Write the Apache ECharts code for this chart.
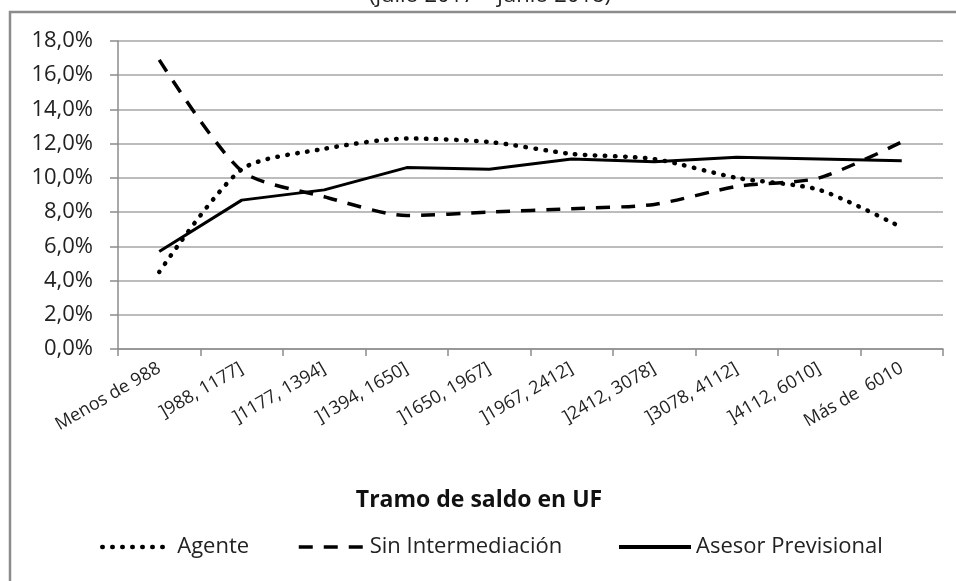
<!DOCTYPE html>
<html>
<head>
<meta charset="utf-8">
<script src="https://cdn.jsdelivr.net/npm/echarts@6/dist/echarts.min.js"></script>
<style>
html,body{margin:0;padding:0;background:#fff;}
#chart{width:956px;height:581px;}
</style>
</head>
<body>
<div id="chart"></div>
<script>
var categories = ['Menos de 988', ']988, 1177]', ']1177, 1394]', ']1394, 1650]', ']1650, 1967]', ']1967, 2412]', ']2412, 3078]', ']3078, 4112]', ']4112, 6010]', 'Más de  6010'];
var agente = [4.5, 10.5, 11.7, 12.3, 12.1, 11.4, 11.1, 10.0, 9.3, 7.1];
var sinIntermediacion = [16.9, 10.4, 8.9, 7.8, 8.0, 8.2, 8.45, 9.5, 10.0, 12.1];
var asesorPrevisional = [5.7, 8.7, 9.3, 10.6, 10.5, 11.1, 10.95, 11.2, 11.1, 11.0];
var yTicks = {min: 0, max: 18, interval: 2};
var seriesNames = ['Agente', 'Sin Intermediación', 'Asesor Previsional'];
var titleText = '(julio 2017 – junio 2018)';
var axisTitle = 'Tramo de saldo en UF';

var FONT = 'Open Sans';
var DOT = {color: '#000', width: 4.5, type: [0.5, 9.5], cap: 'round'};
var DASH = {color: '#000', width: 3.5, type: [14, 11], cap: 'butt'};
var SOLID = {color: '#000', width: 3, type: 'solid'};
var SOLID_LEGEND = {color: '#000', width: 4, type: 'solid'};
var chart = echarts.init(document.getElementById('chart'), null, {renderer: 'canvas'});

function legendFor(name, left, width, ls) {
  return {
    data: [name], left: left, top: 536, itemWidth: width, itemHeight: 20,
    itemGap: 0, padding: 0,
    itemStyle: {opacity: 0},
    lineStyle: ls,
    textStyle: {fontFamily: FONT, fontSize: 22, color: '#222', padding: [0, 0, 0, 0]},
    selectedMode: false
  };
}

var option = {
  animation: false,
  backgroundColor: '#fff',
  grid: {left: 118, right: 13, top: 41, bottom: 232, containLabel: false},
  xAxis: {
    type: 'category', data: categories, boundaryGap: true,
    axisLine: {lineStyle: {color: '#8c8c8c', width: 1.5}},
    axisTick: {show: true, length: 7, lineStyle: {color: '#8c8c8c', width: 1.5}},
    axisLabel: {rotate: 30, margin: 18, interval: 0, fontFamily: FONT, fontSize: 18, color: '#222'},
    splitLine: {show: false}
  },
  yAxis: {
    type: 'value', min: yTicks.min, max: yTicks.max, interval: yTicks.interval,
    axisLine: {show: true, lineStyle: {color: '#8c8c8c', width: 1.5}},
    axisTick: {show: true, length: 8, lineStyle: {color: '#8c8c8c', width: 1.5}},
    axisLabel: {margin: 25, fontFamily: FONT, fontSize: 22, color: '#222',
      formatter: function (v) { return v.toFixed(1).replace('.', ',') + '%'; }},
    splitLine: {show: true, lineStyle: {color: '#a6a6a6', width: 1.5}}
  },
  legend: [
    legendFor(seriesNames[0], 100, 70, DOT),
    legendFor(seriesNames[1], 297, 66, DASH),
    legendFor(seriesNames[2], 617, 72, SOLID_LEGEND)
  ],
  series: [
    {name: seriesNames[0], type: 'line', data: agente, symbol: 'none', smooth: 0.25,
      lineStyle: DOT, itemStyle: {color: '#000'}},
    {name: seriesNames[1], type: 'line', data: sinIntermediacion, symbol: 'none', smooth: 0.25,
      lineStyle: DASH, itemStyle: {color: '#000'}},
    {name: seriesNames[2], type: 'line', data: asesorPrevisional, symbol: 'none',
      lineStyle: SOLID, itemStyle: {color: '#000'}}
  ],
  graphic: [
    {type: 'rect', shape: {x: 10, y: 12, width: 980, height: 600}, style: {fill: null, stroke: '#8c8c8c', lineWidth: 2.5}, silent: true, z: -1},
    {type: 'text', style: {text: titleText, x: 490, y: 7, textAlign: 'center', textVerticalAlign: 'bottom', font: '22px "Open Sans"', fill: '#222'}, silent: true},
    {type: 'text', style: {text: axisTitle, x: 479, y: 500, textAlign: 'center', textVerticalAlign: 'middle', font: 'bold 23px "Open Sans"', fill: '#111'}, silent: true}
  ]
};
chart.setOption(option);
</script>
</body>
</html>
